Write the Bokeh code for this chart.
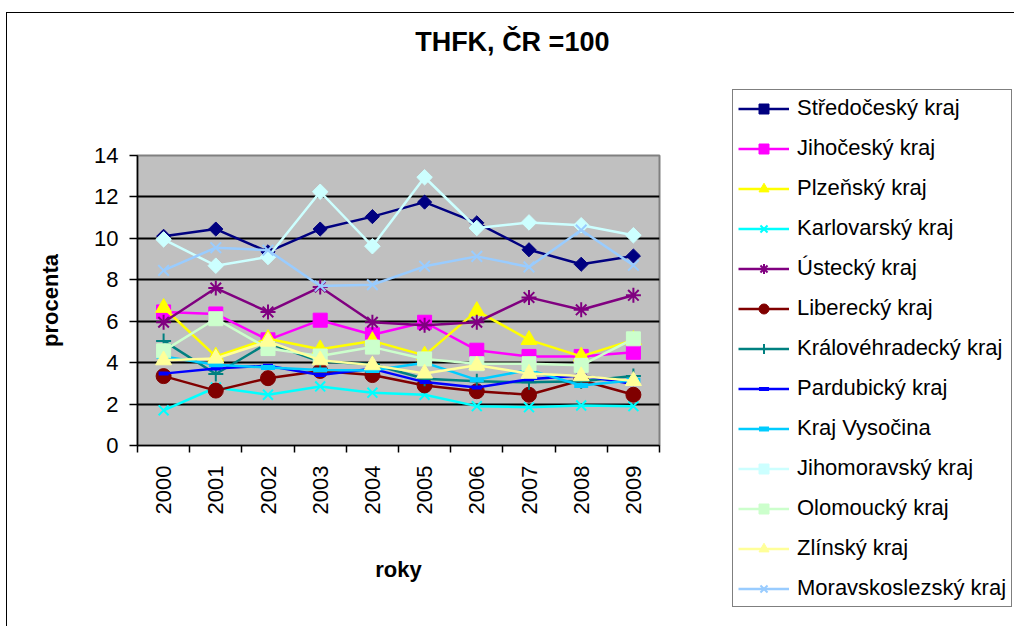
import math
from bokeh.plotting import figure
from bokeh.models import Legend, LegendItem, FixedTicker, Range1d, LinearAxis, InlineStyleSheet
from bokeh.embed import file_html
from bokeh.resources import INLINE

years = ["2000", "2001", "2002", "2003", "2004", "2005", "2006", "2007", "2008", "2009"]

stredocesky = [10.1, 10.45, 9.35, 10.45, 11.05, 11.75, 10.75, 9.45, 8.75, 9.15]
jihocesky = [6.45, 6.35, 5.1, 6.05, 5.35, 5.95, 4.6, 4.3, 4.3, 4.5]
plzensky = [6.65, 4.3, 5.15, 4.65, 5.05, 4.35, 6.5, 5.1, 4.3, 5.1]
karlovarsky = [1.7, 2.8, 2.45, 2.85, 2.55, 2.45, 1.9, 1.85, 1.93, 1.9]
ustecky = [5.95, 7.6, 6.45, 7.65, 5.95, 5.8, 5.95, 7.15, 6.55, 7.25]
liberecky = [3.35, 2.65, 3.25, 3.6, 3.4, 2.9, 2.62, 2.45, 3.15, 2.45]
kralovehradecky = [5.05, 3.45, 4.95, 4.05, 3.92, 3.22, 3.1, 3.05, 3.1, 3.35]
pardubicky = [3.47, 3.72, 3.85, 3.4, 3.7, 3.06, 2.8, 3.2, 3.38, 2.97]
vysocina = [4.3, 3.9, 3.76, 3.65, 3.62, 4.0, 3.17, 3.65, 2.9, 3.15]
jihomoravsky = [9.95, 8.68, 9.1, 12.25, 9.62, 12.95, 10.5, 10.77, 10.63, 10.15]
olomoucky = [4.57, 6.12, 4.68, 4.32, 4.75, 4.18, 3.95, 3.95, 3.87, 5.15]
zlinsky = [4.12, 4.2, 5.02, 4.12, 3.88, 3.48, 3.87, 3.47, 3.35, 3.12]
moravskoslezsky = [8.45, 9.55, 9.43, 7.7, 7.76, 8.65, 9.13, 8.62, 10.4, 8.7]

series_names = ["Středočeský kraj", "Jihočeský kraj", "Plzeňský kraj", "Karlovarský kraj",
                "Ústecký kraj", "Liberecký kraj", "Královéhradecký kraj", "Pardubický kraj",
                "Kraj Vysočina", "Jihomoravský kraj", "Olomoucký kraj", "Zlínský kraj",
                "Moravskoslezský kraj"]
series_values = [stredocesky, jihocesky, plzensky, karlovarsky, ustecky, liberecky,
                 kralovehradecky, pardubicky, vysocina, jihomoravsky, olomoucky, zlinsky,
                 moravskoslezsky]
colors = ["#000080", "#FF00FF", "#FFFF00", "#00FFFF", "#800080", "#800000", "#008080",
          "#0000FF", "#00CCFF", "#CCFFFF", "#CCFFCC", "#FFFF99", "#99CCFF"]
# marker, size, angle, marker line width
markers = [("square", 10, math.pi / 4, 1), ("square", 14, 0, 1), ("triangle", 16, 0, 1),
           ("x", 14, 0, 2), ("asterisk", 15, 0, 2), ("circle", 15, 0, 1), ("cross", 15, 0, 2),
           ("dash", 10, 0, 4), ("dash", 14, 0, 5), ("square", 11, math.pi / 4, 1),
           ("square", 14, 0, 1), ("triangle", 16, 0, 1), ("x", 15, 0, 2)]

title_text = "THFK, ČR =100"
FONT = "Liberation Sans"

# ---------------- main chart ----------------
p = figure(width=1014, height=626, x_range=Range1d(0, 10), y_range=Range1d(0, 14),
           output_backend="svg", toolbar_location=None,
           min_border_left=137, min_border_right=355, min_border_top=155, min_border_bottom=181,
           background_fill_color="#C0C0C0", border_fill_color="white")
p.outline_line_color = "#808080"
p.outline_line_width = 2

xs = [i + 0.5 for i in range(len(years))]

for vals, col, (mk, sz, ang, mlw) in zip(series_values, colors, markers):
    p.line(xs, vals, line_color=col, line_width=2.5)
    p.scatter(xs, vals, marker=mk, size=sz, angle=ang, fill_color=col, line_color=col,
              line_width=mlw)

# x axis: labels at centres, ticks at category boundaries
xaxis = p.xaxis[0]
xaxis.ticker = FixedTicker(ticks=xs, minor_ticks=list(range(len(years) + 1)))
xaxis.major_label_overrides = {x: y for x, y in zip(xs, years)}
xaxis.major_label_orientation = math.pi / 2
xaxis.major_tick_out = 0
xaxis.major_tick_in = 0
xaxis.major_tick_line_color = None
xaxis.minor_tick_out = 7
xaxis.minor_tick_in = 0
xaxis.minor_tick_line_color = "black"
xaxis.minor_tick_line_width = 1.5
xaxis.major_label_standoff = 13
xaxis.axis_line_color = "black"
xaxis.axis_line_width = 1.5
xaxis.major_label_text_font = FONT
xaxis.major_label_text_font_size = "22px"
xaxis.major_label_text_color = "black"
xaxis.axis_label = "roky"
xaxis.axis_label_text_font = FONT
xaxis.axis_label_text_font_size = "22px"
xaxis.axis_label_text_font_style = "bold"
xaxis.axis_label_text_color = "black"
xaxis.axis_label_standoff = 40

yaxis = p.yaxis[0]
yaxis.ticker = FixedTicker(ticks=[0, 2, 4, 6, 8, 10, 12, 14], minor_ticks=[])
yaxis.major_tick_out = 8
yaxis.major_tick_in = 0
yaxis.major_tick_line_color = "black"
yaxis.major_tick_line_width = 1.5
yaxis.minor_tick_line_color = None
yaxis.major_label_standoff = 11
yaxis.axis_line_color = "black"
yaxis.axis_line_width = 1.5
yaxis.major_label_text_font = FONT
yaxis.major_label_text_font_size = "22px"
yaxis.major_label_text_color = "black"
yaxis.axis_label = "procenta"
yaxis.axis_label_text_font = FONT
yaxis.axis_label_text_font_size = "22px"
yaxis.axis_label_text_font_style = "bold"
yaxis.axis_label_text_color = "black"
yaxis.axis_label_standoff = 28

p.xgrid.visible = False
p.ygrid.ticker = FixedTicker(ticks=[2, 4, 6, 8, 10, 12])
p.ygrid.grid_line_color = "black"
p.ygrid.grid_line_width = 2

# chart title, centred over the whole chart area (placed through an axis above the frame)
title_pos = 7.18
title_axis = LinearAxis(ticker=FixedTicker(ticks=[title_pos], minor_ticks=[]),
                        major_label_overrides={title_pos: title_text},
                        axis_line_color=None, major_tick_line_color=None,
                        minor_tick_line_color=None, major_tick_out=0, major_tick_in=0,
                        major_label_standoff=99,
                        major_label_text_font=FONT, major_label_text_font_size="27px",
                        major_label_text_font_style="bold", major_label_text_color="black")
p.add_layout(title_axis, "above")

# outer chart-area border (left and top edges visible in the window)
p.stylesheets = [InlineStyleSheet(css="""
:host { position: relative; }
:host::after { content: ""; position: absolute; left: 6px; top: 12px; right: 0px; bottom: 0px;
  border-left: 1.5px solid black; border-top: 1.5px solid black; pointer-events: none; }
""")]

# ---------------- legend (separate transparent figure laid over the right part) ----------------
q = figure(width=285, height=626, x_range=Range1d(0, 10), y_range=Range1d(100, 114),
           output_backend="svg", toolbar_location=None,
           x_axis_location=None, y_axis_location=None, min_border=0,
           background_fill_alpha=0, border_fill_alpha=0)
q.outline_line_color = None
q.grid.visible = False

items = []
for name, vals, col, (mk, sz, ang, mlw) in zip(series_names, series_values, colors, markers):
    ln = q.line(xs, vals, line_color=col, line_width=2.5)
    sc = q.scatter(xs, vals, marker=mk, size=sz, angle=ang, fill_color=col, line_color=col,
                   line_width=mlw)
    items.append(LegendItem(label=name, renderers=[ln, sc]))

legend = Legend(items=items, location=(3, 19),
                glyph_width=51, glyph_height=25, label_height=25, label_standoff=8,
                spacing=14, padding=5, margin=0,
                border_line_color="black", border_line_width=1.5,
                background_fill_color="white", background_fill_alpha=1,
                label_text_font=FONT, label_text_font_size="22px", label_text_color="black")
q.add_layout(legend)

q.stylesheets = [InlineStyleSheet(css="""
:host { position: absolute !important; left: 729px !important; top: 0px !important; }
""")]

open("out.html", "w").write(file_html([p, q], INLINE))
